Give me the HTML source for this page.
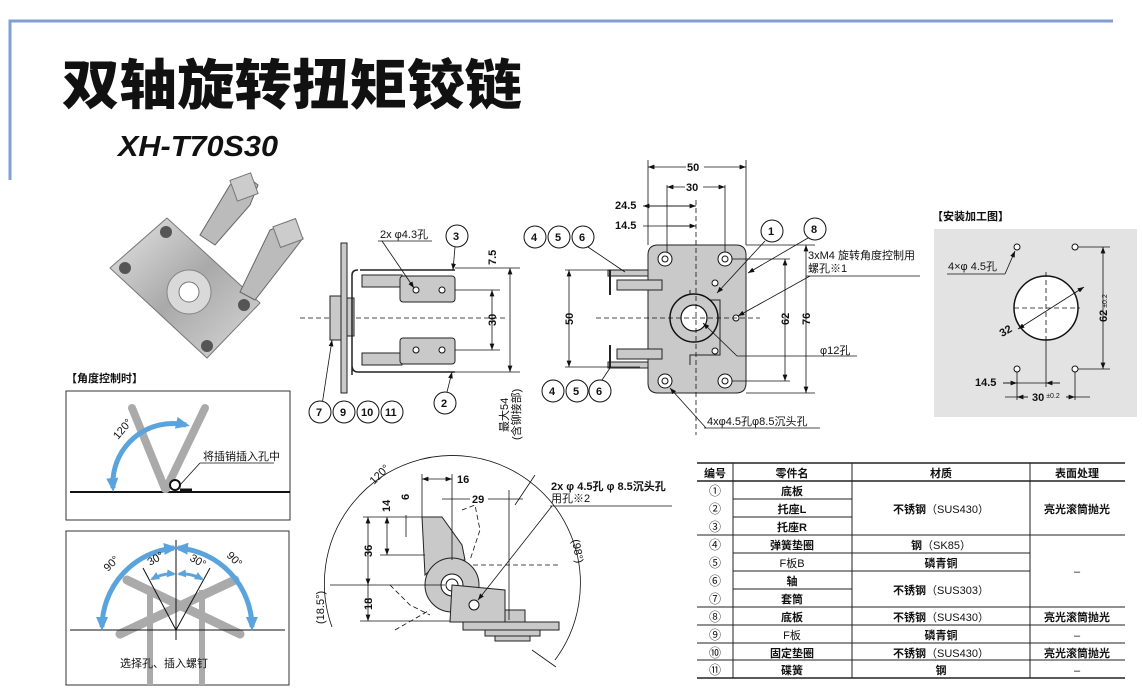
<!DOCTYPE html>
<html><head><meta charset="utf-8"><style>
html,body{margin:0;padding:0;background:#fff;}
svg{display:block;font-family:"Liberation Sans","Noto Sans CJK SC",sans-serif;}
.t{font-size:11px;fill:#111}
.b{font-weight:bold}
.dim{stroke:#111;stroke-width:0.8;fill:none}
.dash{stroke:#111;stroke-width:0.8;stroke-dasharray:5,3;fill:none}
.part{fill:#c9c9c9;stroke:#222;stroke-width:1}
.c{fill:#fff;stroke:#111;stroke-width:1}
</style></head><body>
<svg width="1142" height="693" viewBox="0 0 1142 693" xmlns="http://www.w3.org/2000/svg">
<defs>
<marker id="a" markerWidth="8" markerHeight="6" refX="8" refY="3" orient="auto-start-reverse"><path d="M0,0 L8,3 L0,6z" fill="#111"/></marker>
<marker id="ab" markerUnits="userSpaceOnUse" markerWidth="14" markerHeight="12" refX="10" refY="6" orient="auto-start-reverse"><path d="M0,0 L14,6 L0,12z" fill="#5aa3dc"/></marker>
<marker id="as" markerUnits="userSpaceOnUse" markerWidth="9" markerHeight="8" refX="7" refY="4" orient="auto-start-reverse"><path d="M0,0 L9,4 L0,8z" fill="#5aa3dc"/></marker>
<linearGradient id="g" x1="0" y1="0" x2="1" y2="1"><stop offset="0" stop-color="#e6e6e6"/><stop offset="0.5" stop-color="#a9a9a9"/><stop offset="1" stop-color="#d8d8d8"/></linearGradient>
</defs>
<!-- frame -->
<path d="M10,180 V21 H1113" stroke="#7f9fd6" stroke-width="3" fill="none"/>
<text x="62" y="104" font-size="54" font-weight="900" font-family="'Noto Sans CJK SC',sans-serif" fill="#111" textLength="460" lengthAdjust="spacingAndGlyphs">双轴旋转扭矩铰链</text>
<text x="118" y="156" font-size="29" font-weight="bold" font-style="italic" fill="#111" textLength="160" lengthAdjust="spacingAndGlyphs">XH-T70S30</text>

<!-- photo -->
<polygon points="167,218 110,268 207,358 260,303" fill="url(#g)" stroke="#777"/>
<polygon points="230,185 245,175 258,185 250,205 215,245 200,235" fill="#bbb" stroke="#666"/>
<polygon points="270,230 290,222 303,238 290,255 255,300 240,292" fill="#bbb" stroke="#666"/>
<rect x="233" y="176" width="22" height="22" fill="#ccc" stroke="#777" transform="rotate(-20 244 187)"/>
<rect x="276" y="222" width="24" height="22" fill="#ccc" stroke="#777" transform="rotate(-20 288 233)"/>
<circle cx="189" cy="292" r="22" fill="#d9d9d9" stroke="#888"/><circle cx="189" cy="292" r="10" fill="#fff" stroke="#777"/>
<circle cx="166" cy="232" r="6" fill="#555"/><circle cx="125" cy="268" r="6" fill="#555"/><circle cx="207" cy="346" r="6" fill="#555"/><circle cx="244" cy="305" r="6" fill="#555"/>

<!-- side view -->
<line x1="300" y1="318" x2="505" y2="318" class="dash"/>
<rect x="341" y="243" width="6" height="150" class="part"/>
<rect x="330" y="296" width="11" height="44" class="part"/><rect x="347" y="298" width="7" height="38" class="part"/>
<path d="M360,270 H455 M352,375 V275 Q352,270 358,270 M352,365 Q352,372 358,372 H455" stroke="#222" stroke-width="1.5" fill="none"/>
<rect x="362" y="275" width="40" height="12" class="part"/><rect x="362" y="353" width="40" height="12" class="part"/>
<rect x="400" y="276" width="55" height="26" rx="3" class="part"/><rect x="400" y="338" width="55" height="26" rx="3" class="part"/>
<circle cx="416" cy="290" r="3" class="c"/><circle cx="442" cy="290" r="3" class="c"/><circle cx="416" cy="350" r="3" class="c"/><circle cx="442" cy="350" r="3" class="c"/>
<line x1="455" y1="268" x2="520" y2="268" class="dim"/><line x1="455" y1="290" x2="500" y2="290" class="dim"/><line x1="455" y1="350" x2="500" y2="350" class="dim"/><line x1="455" y1="372" x2="520" y2="372" class="dim"/>
<line x1="492" y1="290" x2="492" y2="350" class="dim" marker-start="url(#a)" marker-end="url(#a)"/>
<line x1="510" y1="268" x2="510" y2="372" class="dim" marker-start="url(#a)" marker-end="url(#a)"/>
<text class="t b" x="0" y="0" transform="translate(496,265) rotate(-90)" font-size="10">7.5</text>
<text class="t b" x="0" y="0" transform="translate(496,326) rotate(-90)" font-size="10">30</text>
<text class="t" x="0" y="0" transform="translate(508,432) rotate(-90)">最大54</text>
<text class="t" x="0" y="0" transform="translate(520,440) rotate(-90)">(含铆接部)</text>
<text class="t" x="380" y="238">2x φ4.3孔</text><line x1="378" y1="241" x2="432" y2="241" class="dim"/>
<line x1="382" y1="241" x2="414" y2="288" class="dim" marker-end="url(#a)"/>
<circle cx="457" cy="236" r="11" class="c"/><text class="t b" x="453" y="240">3</text><line x1="455" y1="247" x2="453" y2="270" class="dim" marker-end="url(#a)"/>
<circle cx="445" cy="403" r="11" class="c"/><text class="t b" x="441" y="407">2</text><line x1="447" y1="392" x2="452" y2="372" class="dim" marker-end="url(#a)"/>
<line x1="322" y1="405" x2="332" y2="340" class="dim" marker-end="url(#a)"/>
<g class="t b"><circle cx="320" cy="412" r="11" class="c"/><text x="316" y="416">7</text>
<circle cx="344" cy="412" r="11" class="c"/><text x="340" y="416">9</text>
<circle cx="368" cy="412" r="11" class="c"/><text x="361" y="416">10</text>
<circle cx="392" cy="412" r="11" class="c"/><text x="385" y="416">11</text></g>

<!-- front view -->
<path d="M658,245 H736 Q746,245 746,255 V383 Q746,393 736,393 H658 Q648,393 648,383 V255 Q648,245 658,245 Z" class="part"/>
<path d="M690,290 V300 H720 V355 H690 V365" stroke="#222" fill="none"/>
<rect x="608" y="270" width="40" height="6" class="part"/><rect x="608" y="362" width="40" height="6" class="part"/>
<rect x="617" y="280" width="45" height="10" class="part"/><rect x="617" y="349" width="45" height="10" class="part"/>
<line x1="610" y1="270" x2="610" y2="295" stroke="#222" stroke-width="2"/><line x1="610" y1="345" x2="610" y2="368" stroke="#222" stroke-width="2"/>
<circle cx="694" cy="318" r="24" fill="#c9c9c9" stroke="#111" stroke-width="1.5"/><circle cx="694" cy="318" r="13" fill="#fff" stroke="#111" stroke-width="1.2"/>
<g fill="#fff" stroke="#111"><circle cx="665" cy="259" r="7"/><circle cx="725" cy="259" r="7"/><circle cx="665" cy="381" r="7"/><circle cx="725" cy="381" r="7"/>
<circle cx="665" cy="259" r="3"/><circle cx="725" cy="259" r="3"/><circle cx="665" cy="381" r="3"/><circle cx="725" cy="381" r="3"/>
<circle cx="715" cy="283" r="3"/><circle cx="736" cy="318" r="3"/><circle cx="715" cy="351" r="3"/></g>
<line x1="596" y1="318" x2="760" y2="318" class="dash"/><line x1="696" y1="200" x2="696" y2="435" class="dash"/>
<line x1="648" y1="160" x2="648" y2="245" class="dim"/><line x1="746" y1="160" x2="746" y2="245" class="dim"/>
<line x1="667" y1="185" x2="667" y2="252" class="dim"/><line x1="725" y1="185" x2="725" y2="252" class="dim"/>
<line x1="648" y1="167" x2="746" y2="167" class="dim" marker-start="url(#a)" marker-end="url(#a)"/><rect x="686" y="160" width="18" height="12" fill="#fff"/><text class="t b" x="687" y="171" font-size="10">50</text>
<line x1="667" y1="187" x2="725" y2="187" class="dim" marker-start="url(#a)" marker-end="url(#a)"/><rect x="685" y="181" width="18" height="12" fill="#fff"/><text class="t b" x="686" y="191" font-size="10">30</text>
<text class="t b" x="615" y="209" font-size="10">24.5</text><line x1="643" y1="206" x2="696" y2="206" class="dim" marker-start="url(#a)"/><line x1="648" y1="206" x2="696" y2="206" class="dim" marker-end="url(#a)"/>
<text class="t b" x="615" y="229" font-size="10">14.5</text><line x1="643" y1="226" x2="696" y2="226" class="dim"/><line x1="667" y1="226" x2="696" y2="226" class="dim" marker-end="url(#a)"/>
<line x1="565" y1="270" x2="640" y2="270" class="dim"/><line x1="565" y1="367" x2="640" y2="367" class="dim"/>
<line x1="569" y1="270" x2="569" y2="367" class="dim" marker-start="url(#a)" marker-end="url(#a)"/><text class="t b" x="0" y="0" transform="translate(573,325) rotate(-90)" font-size="10">50</text>
<line x1="732" y1="259" x2="790" y2="259" class="dim"/><line x1="732" y1="381" x2="790" y2="381" class="dim"/>
<line x1="785" y1="259" x2="785" y2="381" class="dim" marker-start="url(#a)" marker-end="url(#a)"/><text class="t b" x="0" y="0" transform="translate(789,325) rotate(-90)" font-size="10">62</text>
<line x1="746" y1="245" x2="815" y2="245" class="dim"/><line x1="746" y1="393" x2="815" y2="393" class="dim"/>
<line x1="806" y1="245" x2="806" y2="393" class="dim" marker-start="url(#a)" marker-end="url(#a)"/><text class="t b" x="0" y="0" transform="translate(810,325) rotate(-90)" font-size="10">76</text>
<g class="t b"><circle cx="535" cy="237" r="11" class="c"/><text x="531" y="241">4</text><circle cx="559" cy="237" r="11" class="c"/><text x="555" y="241">5</text><circle cx="583" cy="237" r="11" class="c"/><text x="579" y="241">6</text>
<circle cx="553" cy="391" r="11" class="c"/><text x="549" y="395">4</text><circle cx="577" cy="391" r="11" class="c"/><text x="573" y="395">5</text><circle cx="600" cy="391" r="11" class="c"/><text x="596" y="395">6</text>
<circle cx="772" cy="231" r="11" class="c"/><text x="768" y="235">1</text><circle cx="815" cy="229" r="11" class="c"/><text x="811" y="233">8</text></g>
<line x1="588" y1="247" x2="625" y2="272" class="dim"/><line x1="602" y1="380" x2="610" y2="368" class="dim"/>
<line x1="765" y1="241" x2="717" y2="293" class="dim" marker-end="url(#a)"/><line x1="808" y1="238" x2="748" y2="273" class="dim" marker-end="url(#a)"/>
<text class="t" x="808" y="259">3xM4 旋转角度控制用</text><text class="t" x="808" y="272">螺孔※1</text>
<line x1="806" y1="276" x2="920" y2="276" class="dim"/><line x1="810" y1="276" x2="738" y2="316" class="dim" marker-end="url(#a)"/>
<text class="t" x="820" y="354">φ12孔</text><line x1="737" y1="356" x2="857" y2="356" class="dim"/><line x1="737" y1="356" x2="703" y2="323" class="dim" marker-end="url(#a)"/>
<text class="t" x="707" y="425">4xφ4.5孔φ8.5沉头孔</text><line x1="704" y1="428" x2="820" y2="428" class="dim"/><line x1="706" y1="428" x2="670" y2="388" class="dim" marker-end="url(#a)"/>

<!-- install drawing -->
<text class="t b" x="932" y="220" font-size="12">【安装加工图】</text>
<rect x="934" y="229" width="203" height="188" fill="#e3e3e3"/>
<g fill="#fff" stroke="#111"><circle cx="1017" cy="247" r="3"/><circle cx="1075" cy="247" r="3"/><circle cx="1017" cy="369" r="3"/><circle cx="1075" cy="369" r="3"/></g>
<circle cx="1046" cy="308" r="32" fill="#fff" stroke="#111" stroke-width="1.5"/>
<line x1="1014" y1="308" x2="1080" y2="308" class="dash"/><line x1="1046" y1="272" x2="1046" y2="340" class="dash"/>
<line x1="1046" y1="340" x2="1046" y2="387" class="dim"/><line x1="1017" y1="372" x2="1017" y2="400" class="dim"/><line x1="1075" y1="372" x2="1075" y2="400" class="dim"/>
<line x1="1018" y1="329" x2="1084" y2="287" class="dim" marker-start="url(#a)" marker-end="url(#a)"/>
<text class="t b" x="1000" y="335" transform="rotate(-30 1005 332)">32</text>
<text class="t" x="948" y="270">4×φ 4.5孔</text><line x1="947" y1="274" x2="1005" y2="274" class="dim"/><line x1="1005" y1="274" x2="1015" y2="251" class="dim" marker-end="url(#a)"/>
<line x1="1078" y1="247" x2="1110" y2="247" class="dim"/><line x1="1078" y1="369" x2="1110" y2="369" class="dim"/>
<line x1="1103" y1="247" x2="1103" y2="369" class="dim" marker-start="url(#a)" marker-end="url(#a)"/><text class="t b" x="0" y="0" transform="translate(1107,322) rotate(-90)">62<tspan font-size="7" font-weight="normal"> ±0.2</tspan></text>
<text class="t b" x="975" y="386">14.5</text><line x1="1003" y1="383" x2="1060" y2="383" class="dim"/><line x1="1003" y1="383" x2="1017" y2="383" class="dim" marker-end="url(#a)"/><line x1="1060" y1="383" x2="1046" y2="383" class="dim" marker-end="url(#a)"/>
<line x1="1005" y1="397" x2="1090" y2="397" class="dim"/><line x1="1030" y1="397" x2="1017" y2="397" class="dim" marker-end="url(#a)"/><line x1="1060" y1="397" x2="1075" y2="397" class="dim" marker-end="url(#a)"/>
<rect x="1028" y="390" width="38" height="12" fill="#e3e3e3"/><text class="t b" x="1032" y="401">30<tspan font-size="7" font-weight="normal" dy="-3"> ±0.2</tspan></text>

<!-- angle control -->
<text class="t b" x="66" y="382" font-size="11">【角度控制时】</text>
<rect x="66" y="391" width="224" height="129" fill="#fff" stroke="#333"/>
<line x1="70" y1="492" x2="290" y2="492" stroke="#111" stroke-width="2"/>
<line x1="132" y1="408" x2="165" y2="489" stroke="#aaa" stroke-width="8" stroke-linecap="round"/>
<line x1="205" y1="408" x2="166" y2="489" stroke="#aaa" stroke-width="8" stroke-linecap="round"/>
<path d="M113,488 A60,60 0 0 1 186,425" stroke="#5aa3dc" stroke-width="5" fill="none" marker-start="url(#ab)" marker-end="url(#ab)"/>
<circle cx="175" cy="485" r="5" fill="#fff" stroke="#111" stroke-width="2"/>
<path d="M180,490 H192" stroke="#111" stroke-width="3"/>
<text class="t" x="0" y="0" font-size="10" transform="translate(118,440) rotate(-50)">120°</text>
<text class="t" x="203" y="460" font-size="10">将插销插入孔中</text><line x1="200" y1="463" x2="274" y2="463" class="dim"/><line x1="200" y1="463" x2="180" y2="485" class="dim"/>
<rect x="66" y="531" width="223" height="154" fill="#fff" stroke="#333"/>
<rect x="147" y="590" width="6" height="95" fill="#aaa"/><rect x="199" y="590" width="6" height="95" fill="#aaa"/>
<line x1="120" y1="634" x2="235" y2="580" stroke="#aaa" stroke-width="9" stroke-linecap="round"/>
<line x1="240" y1="634" x2="127" y2="580" stroke="#aaa" stroke-width="9" stroke-linecap="round"/>
<line x1="70" y1="630" x2="285" y2="630" stroke="#111" stroke-width="1"/>
<line x1="176" y1="540" x2="176" y2="640" stroke="#111"/><line x1="143" y1="568" x2="176" y2="630" stroke="#111"/><line x1="210" y1="568" x2="176" y2="630" stroke="#111"/>
<path d="M102,627 A80,80 0 0 1 174,548" stroke="#5aa3dc" stroke-width="5" fill="none" marker-start="url(#ab)" marker-end="url(#ab)"/>
<path d="M252,627 A80,80 0 0 0 178,548" stroke="#5aa3dc" stroke-width="5" fill="none" marker-start="url(#ab)" marker-end="url(#ab)"/>
<path d="M152,579 Q163,573 174,574" stroke="#5aa3dc" stroke-width="3" fill="none" marker-start="url(#as)" marker-end="url(#as)"/>
<path d="M202,579 Q191,573 179,574" stroke="#5aa3dc" stroke-width="3" fill="none" marker-start="url(#as)" marker-end="url(#as)"/>
<text class="t" font-size="13" transform="translate(108,572) rotate(-45)">90°</text><text class="t" font-size="13" transform="translate(226,556) rotate(45)">90°</text>
<text class="t" font-size="13" transform="translate(150,566) rotate(-30)">30°</text><text class="t" font-size="13" transform="translate(189,560) rotate(30)">30°</text>
<text class="t" font-size="14" x="120" y="667">选择孔、插入螺钉</text>

<!-- bottom middle drawing -->
<path d="M332,627 A128,128 0 1 1 555,660" class="dim"/>
<line x1="425" y1="565" x2="560" y2="565" class="dash"/>
<path d="M422,517 H442 L462,545 L465,560 Q440,560 425,575 Z" class="part"/>
<circle cx="452" cy="585" r="27" class="part"/><circle cx="452" cy="585" r="11" fill="#fff" stroke="#111"/><circle cx="452" cy="585" r="6" fill="#fff" stroke="#111"/>
<path d="M452,585 L505,590 V622 H450 Z" class="part"/>
<rect x="463" y="622" width="96" height="8" class="part"/><rect x="485" y="630" width="55" height="6" class="part"/><rect x="495" y="636" width="35" height="5" class="part"/>
<rect x="505" y="610" width="20" height="12" class="part"/>
<path d="M462,510 L475,505 L480,530 L470,560 M390,585 L410,605 L430,615 M395,630 L430,610" class="dash"/>
<circle cx="474" cy="605" r="5" fill="#fff" stroke="#111"/>
<line x1="422" y1="474" x2="422" y2="517" class="dim"/><line x1="452" y1="474" x2="452" y2="560" class="dim"/><line x1="509" y1="490" x2="509" y2="620" class="dim"/>
<line x1="422" y1="479" x2="452" y2="479" class="dim" marker-start="url(#a)" marker-end="url(#a)"/><text class="t b" x="457" y="483" font-size="10">16</text>
<line x1="442" y1="499" x2="523" y2="499" class="dim"/><rect x="470" y="492" width="18" height="12" fill="#fff"/><text class="t b" x="472" y="503" font-size="10">29</text>
<line x1="363" y1="517" x2="422" y2="517" class="dim"/><line x1="380" y1="555" x2="425" y2="555" class="dim"/><line x1="330" y1="585" x2="445" y2="585" class="dim"/><line x1="360" y1="621" x2="450" y2="621" class="dim"/>
<line x1="368" y1="517" x2="368" y2="585" class="dim" marker-start="url(#a)" marker-end="url(#a)"/><text class="t b" transform="translate(372,557) rotate(-90)" font-size="10">36</text>
<line x1="368" y1="585" x2="368" y2="621" class="dim" marker-end="url(#a)"/><text class="t b" transform="translate(372,610) rotate(-90)" font-size="10">18</text>
<line x1="387" y1="517" x2="387" y2="555" class="dim" marker-start="url(#a)" marker-end="url(#a)"/><text class="t b" transform="translate(390,512) rotate(-90)" font-size="10">14</text>
<line x1="406" y1="515" x2="406" y2="537" class="dim"/><text class="t b" transform="translate(409,500) rotate(-90)" font-size="10">6</text>
<text class="t" font-size="10" transform="translate(374,485) rotate(-45)">120°</text>
<text class="t" font-size="10" transform="translate(324,624) rotate(-90)">(18.5°)</text>
<text class="t" font-size="10" transform="translate(572,540) rotate(80)">(98°)</text>
<line x1="515" y1="505" x2="535" y2="475" class="dim"/><line x1="532" y1="650" x2="556" y2="667" class="dim"/>
<text class="t b" x="551" y="490" font-size="10">2x φ 4.5孔 φ 8.5沉头孔</text><text class="t" x="551" y="502">用孔※2</text>
<line x1="550" y1="506" x2="672" y2="506" class="dim"/><line x1="552" y1="506" x2="478" y2="600" class="dim" marker-end="url(#a)"/>

<!-- table -->
<g font-size="11" fill="#111">
<line x1="697" y1="463" x2="1125" y2="463" stroke="#222" stroke-width="1.5"/>
<line x1="697" y1="481" x2="1125" y2="481" stroke="#222" stroke-width="1.5"/>
<line x1="697" y1="678" x2="1125" y2="678" stroke="#222" stroke-width="1.5"/>
<g stroke="#222" stroke-width="1">
<line x1="733" y1="463" x2="733" y2="678"/><line x1="852" y1="463" x2="852" y2="678"/><line x1="1030" y1="463" x2="1030" y2="678"/>
<line x1="733" y1="499" x2="852" y2="499"/><line x1="733" y1="517" x2="852" y2="517"/>
<line x1="697" y1="535" x2="1125" y2="535"/><line x1="733" y1="553" x2="1030" y2="553"/><line x1="733" y1="571" x2="1030" y2="571"/><line x1="733" y1="589" x2="852" y2="589"/>
<line x1="697" y1="607" x2="1125" y2="607"/><line x1="697" y1="625" x2="1125" y2="625"/><line x1="697" y1="643" x2="1125" y2="643"/><line x1="697" y1="660" x2="1125" y2="660"/>
</g>
<g font-weight="bold" text-anchor="middle">
<text x="715" y="477">编号</text><text x="792" y="477">零件名</text><text x="941" y="477">材质</text><text x="1077" y="477">表面处理</text>
<text x="792" y="495">底板</text><text x="792" y="513">托座L</text><text x="792" y="531">托座R</text><text x="792" y="549">弹簧垫圈</text>
<text x="792" y="567" font-weight="normal">F板B</text><text x="792" y="585">轴</text><text x="792" y="603">套筒</text><text x="792" y="621">底板</text>
<text x="792" y="639" font-weight="normal">F板</text><text x="792" y="657">固定垫圈</text><text x="792" y="674">碟簧</text>
<text x="941" y="513">不锈钢<tspan font-weight="normal">（SUS430）</tspan></text>
<text x="941" y="549">钢<tspan font-weight="normal">（SK85）</tspan></text><text x="941" y="567">磷青铜</text>
<text x="941" y="594">不锈钢<tspan font-weight="normal">（SUS303）</tspan></text>
<text x="941" y="621">不锈钢<tspan font-weight="normal">（SUS430）</tspan></text><text x="941" y="639">磷青铜</text>
<text x="941" y="657">不锈钢<tspan font-weight="normal">（SUS430）</tspan></text><text x="941" y="674">钢</text>
<text x="1077" y="513">亮光滚筒抛光</text><text x="1077" y="575" font-weight="normal">–</text>
<text x="1077" y="621">亮光滚筒抛光</text><text x="1077" y="639" font-weight="normal">–</text><text x="1077" y="657">亮光滚筒抛光</text><text x="1077" y="674" font-weight="normal">–</text>
</g>
<g text-anchor="middle" font-size="12"><text x="715" y="495">①</text><text x="715" y="513">②</text><text x="715" y="531">③</text><text x="715" y="549">④</text><text x="715" y="567">⑤</text><text x="715" y="585">⑥</text><text x="715" y="603">⑦</text><text x="715" y="621">⑧</text><text x="715" y="639">⑨</text><text x="715" y="657">⑩</text><text x="715" y="674">⑪</text></g>
</g>
</svg>
</body></html>
